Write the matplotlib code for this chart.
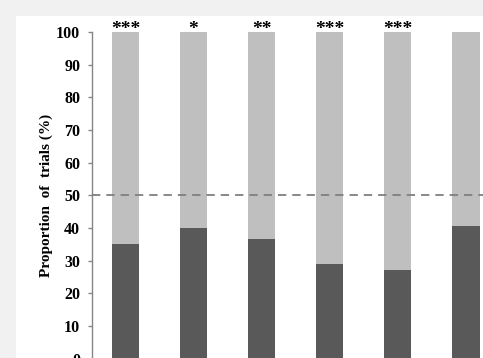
import numpy as np
import matplotlib
matplotlib.use("Agg")
import matplotlib.pyplot as plt
from matplotlib.patches import Rectangle

# proportion of trials (%) for each condition
conditions = ["C1", "C2", "C3", "C4", "C5", "C6"]
dark_share = [35.0, 40.0, 36.5, 29.0, 27.0, 40.5]
total_share = [100, 100, 100, 100, 100, 100]
stars = ["***", "*", "**", "***", "***", ""]
y_ticks = [0, 10, 20, 30, 40, 50, 60, 70, 80, 90, 100]

plt.rcParams['font.family'] = ['Liberation Serif', 'DejaVu Serif']
plt.rcParams['lines.scale_dashes'] = False

W, H = 483, 358
fig = plt.figure(figsize=(W / 100, H / 100), dpi=100)
fig.patch.set_facecolor('#f1f1f1')

# white page with a soft shadow at top and left
fig.add_artist(Rectangle((16 / W, 0), 1, 1 - 16 / H, transform=fig.transFigure,
                         facecolor='white', edgecolor='none', zorder=-5))

ax = fig.add_axes([92 / W, -0.6 / H, 1 - 92 / W, 326.6 / H])
ax.set_facecolor('none')

x = np.arange(len(conditions))
ax.bar(x, total_share, width=0.40, color='#bfbfbf', zorder=2)
ax.bar(x, dark_share, width=0.40, color='#595959', zorder=3)

ax.axhline(50, color='#7f7f7f', lw=1.3, dashes=(6, 4.3), zorder=4)

for xi, s in zip(x, stars):
    if s:
        ax.text(xi, 98.2, s, ha='center', va='bottom', fontsize=14,
                fontweight='bold', clip_on=False)

ax.set_xlim(-0.49, 5.25)
ax.set_ylim(0, 100)
ax.set_yticks(y_ticks)
ax.set_xticks([])
for side in ['top', 'right', 'bottom']:
    ax.spines[side].set_visible(False)
ax.spines['left'].set_color('#858585')
ax.spines['left'].set_linewidth(1.0)
ax.tick_params(axis='y', length=3, width=1, color='#858585', pad=5.5,
               labelsize=11.5)
for lbl in ax.get_yticklabels():
    lbl.set_fontweight('bold')
ax.set_ylabel("Proportion  of  trials (%)", fontsize=11, fontweight='bold',
              labelpad=2)

fig.savefig("out.png", dpi=100, facecolor=fig.get_facecolor())
